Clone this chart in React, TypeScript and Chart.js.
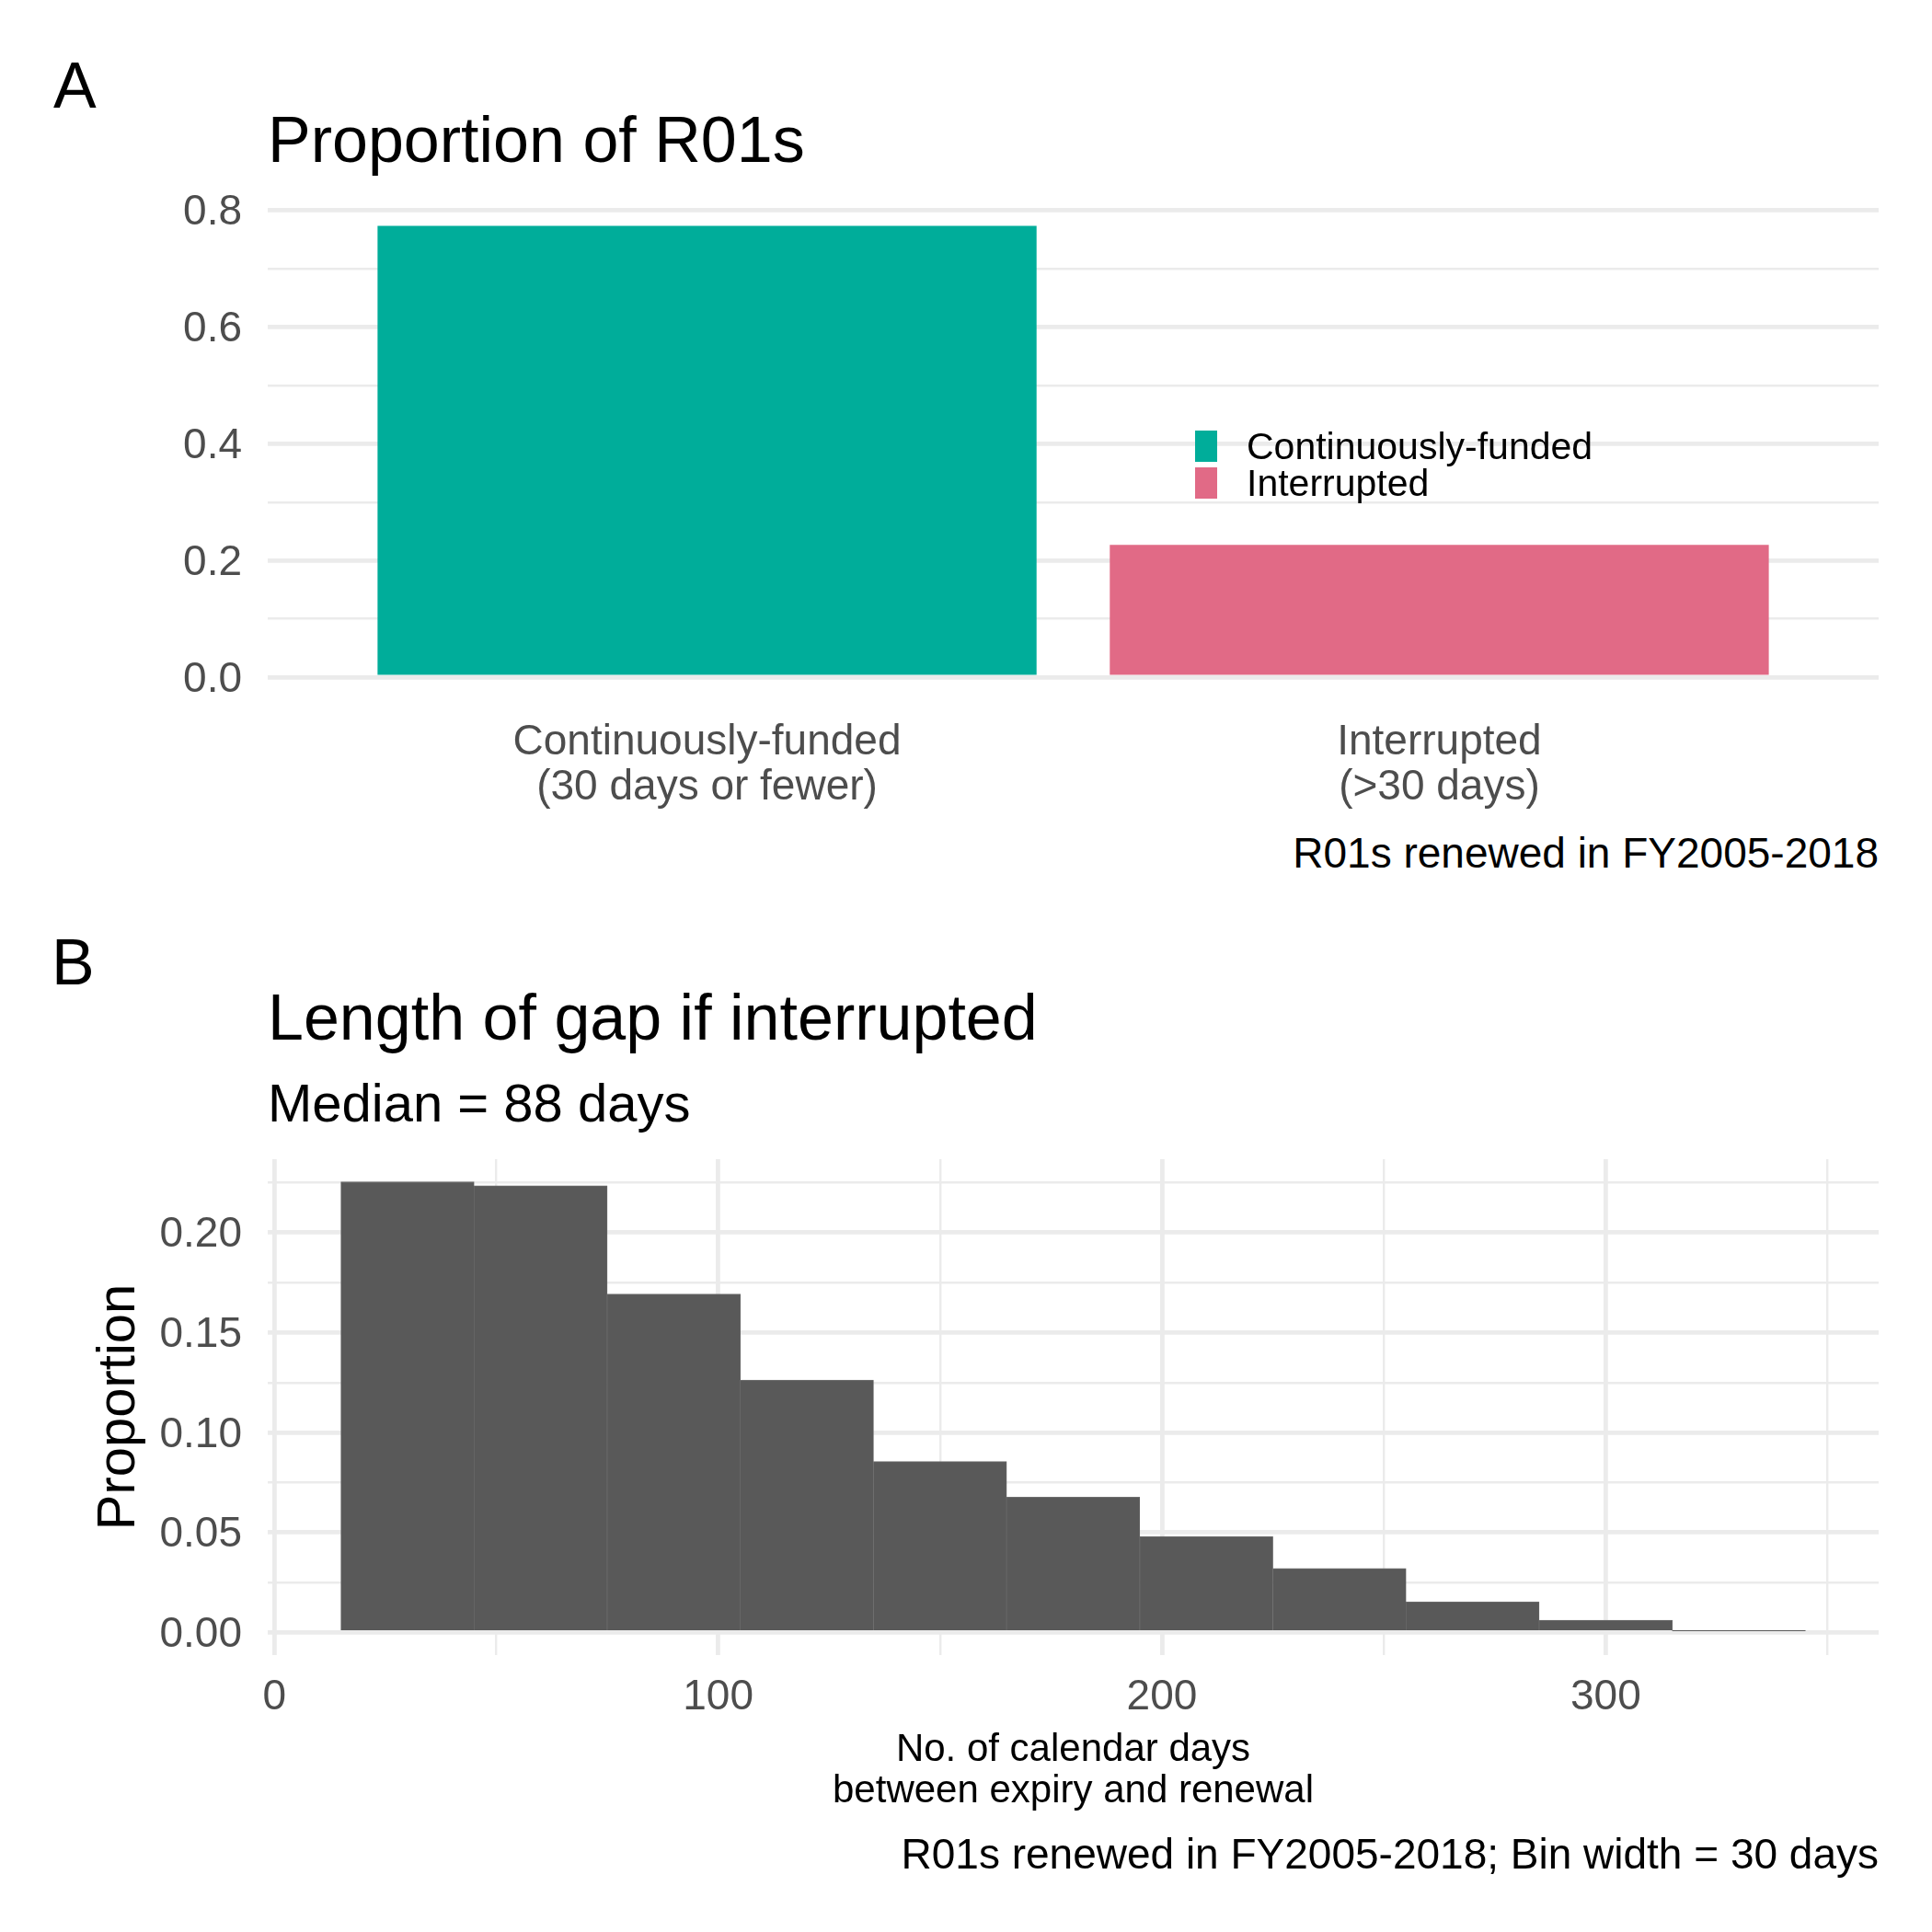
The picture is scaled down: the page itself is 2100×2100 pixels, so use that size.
import { useEffect, useRef } from "react"
import { Chart, registerables } from "chart.js"

Chart.register(...registerables)

const FONT = "'Liberation Sans', Arial, Helvetica, sans-serif"
Chart.defaults.font.family = FONT

// ---- panel A: share of renewed R01s ----
const statusNames  = ["Continuously-funded", "Interrupted"]
const statusTicks  = [["Continuously-funded", "(30 days or fewer)"], ["Interrupted", "(>30 days)"]]
const statusProp   = [0.7733, 0.2267]
const statusColors = ["#00AD9A", "#E16A86"]
const propTicksA   = [0, 0.1, 0.2, 0.3, 0.4, 0.5, 0.6, 0.7, 0.8]

// ---- panel B: gap length histogram (bin width 30 days) ----
const binMid     = [30, 60, 90, 120, 150, 180, 210, 240, 270, 300, 330]
const binProp    = [0.2254, 0.2234, 0.1692, 0.1262, 0.0855, 0.0677, 0.048, 0.032, 0.0154, 0.0062, 0.0007]
const binWidth   = 30
const dayTicks   = [0, 50, 100, 150, 200, 250, 300, 350]
const propTicksB = [0, 0.025, 0.05, 0.075, 0.1, 0.125, 0.15, 0.175, 0.2, 0.225]

const GRID = "#EBEBEB"
const TICK = "#4D4D4D"
const majorW = 4.8
const minorW = 2.4

// text placed by its baseline
function Txt({ x, base, size, align = "left", color = "#000", children }: any) {
  const shift = align === "right" ? "translateX(-100%)" : align === "center" ? "translateX(-50%)" : "none"
  return (
    <div style={{
      position: "absolute", left: x, top: base - 0.8467 * size, fontSize: size, lineHeight: `${size}px`,
      color, whiteSpace: "nowrap", transform: shift,
    }}>{children}</div>
  )
}

function PanelA() {
  const ref = useRef<HTMLCanvasElement>(null)

  useEffect(() => {
    if (!ref.current) return
    const yMax = Math.max(...statusProp)
    const chart = new Chart(ref.current, {
      type: "bar",
      data: {
        datasets: [{
          data: statusProp.map((y, i) => ({ x: i + 1, y })),
          backgroundColor: statusColors,
          borderWidth: 0,
          barPercentage: 0.9,
          categoryPercentage: 1,
        }],
      },
      options: {
        animation: false,
        responsive: true,
        maintainAspectRatio: false,
        layout: { padding: { top: 61, right: 58, left: 0, bottom: 0 } },
        plugins: { legend: { display: false }, tooltip: { enabled: false } },
        scales: {
          x: {
            type: "linear", min: 0.4, max: statusNames.length + 0.6, offset: false,
            afterBuildTicks: (s: any) => { s.ticks = statusNames.map((_, i) => ({ value: i + 1 })) },
            afterFit: (s: any) => { s.height = 139.5 },
            grid: { display: false, drawTicks: false, offset: false },
            border: { display: false },
            ticks: {
              autoSkip: false, maxRotation: 0, padding: 23, color: TICK,
              font: { size: 46, lineHeight: 1.056 },
              callback: (v: any) => statusTicks[Math.round(v) - 1] ?? "",
            },
          },
          y: {
            min: -0.05 * yMax, max: 1.05 * yMax,
            afterBuildTicks: (s: any) => { s.ticks = propTicksA.map(v => ({ value: v })) },
            afterFit: (s: any) => { s.width = 291 },
            grid: { color: GRID, drawTicks: false, lineWidth: (c: any) => (c.index % 2 === 0 ? majorW : minorW) },
            border: { display: false },
            ticks: {
              autoSkip: false, padding: 28, labelOffset: 3, color: TICK, font: { size: 46 },
              callback: (v: any, i: number) => (i % 2 === 0 ? Number(v).toFixed(1) : ""),
            },
          },
        },
      },
    })
    return () => chart.destroy()
  }, [])

  return (
    <div style={{ position: "absolute", left: 0, top: 160, width: 2100, height: 740 }}>
      <canvas ref={ref} />
    </div>
  )
}

function PanelB() {
  const ref = useRef<HTMLCanvasElement>(null)

  useEffect(() => {
    if (!ref.current) return
    const lo = binMid[0] - binWidth / 2
    const hi = binMid[binMid.length - 1] + binWidth / 2
    const xPad = 0.05 * (hi - lo)
    const yMax = Math.max(...binProp)
    const chart = new Chart(ref.current, {
      type: "bar",
      data: {
        datasets: [{
          data: binMid.map((x, i) => ({ x, y: binProp[i] })),
          backgroundColor: "#595959",
          borderColor: "#6e6e6e",
          borderWidth: { top: 1, left: 0.6, right: 0.6, bottom: 0 },
          borderSkipped: "start",
          barPercentage: 1,
          categoryPercentage: 1,
        }],
      },
      options: {
        animation: false,
        responsive: true,
        maintainAspectRatio: false,
        layout: { padding: { top: 61, right: 58, left: 0, bottom: 0 } },
        plugins: { legend: { display: false }, tooltip: { enabled: false } },
        scales: {
          x: {
            type: "linear", min: lo - xPad, max: hi + xPad, offset: false,
            afterBuildTicks: (s: any) => { s.ticks = dayTicks.map(v => ({ value: v })) },
            afterFit: (s: any) => { s.height = 201 },
            grid: { color: GRID, drawTicks: false, offset: false, lineWidth: (c: any) => (c.index % 2 === 0 ? majorW : minorW) },
            border: { display: false },
            ticks: {
              autoSkip: false, maxRotation: 0, padding: 22, color: TICK,
              font: { size: 46, lineHeight: 1.056 },
              callback: (v: any, i: number) => (i % 2 === 0 ? String(v) : ""),
            },
            title: {
              display: true, text: ["No. of calendar days", "between expiry and renewal"], color: "#000",
              font: { size: 42, lineHeight: 1.0714 }, padding: { top: 0, bottom: 30 },
            },
          },
          y: {
            min: -0.05 * yMax, max: 1.05 * yMax,
            afterBuildTicks: (s: any) => { s.ticks = propTicksB.map(v => ({ value: v })) },
            afterFit: (s: any) => { s.width = 291 },
            grid: { color: GRID, drawTicks: false, lineWidth: (c: any) => (c.index % 2 === 0 ? majorW : minorW) },
            border: { display: false },
            ticks: {
              autoSkip: false, padding: 28, labelOffset: 3, color: TICK, font: { size: 46 },
              callback: (v: any, i: number) => (i % 2 === 0 ? Number(v).toFixed(2) : ""),
            },
            title: {
              display: true, text: "Proportion", color: "#000",
              font: { size: 58, lineHeight: 1 }, padding: { top: 101, bottom: 0 },
            },
          },
        },
      },
    })
    return () => chart.destroy()
  }, [])

  return (
    <div style={{ position: "absolute", left: 0, top: 1199, width: 2100, height: 801 }}>
      <canvas ref={ref} />
    </div>
  )
}

export default function App() {
  return (
    <div style={{ position: "absolute", left: 0, top: 0, width: 2100, height: 2100, background: "#fff", fontFamily: FONT }}>
      <Txt x={58} base={117} size={70}>A</Txt>
      <Txt x={291} base={176} size={70}>Proportion of R01s</Txt>
      <PanelA />
      {statusNames.map((name, i) => (
        <div key={name}>
          <div style={{ position: "absolute", left: 1299, top: 468 + i * 40, width: 24, height: 34, background: statusColors[i] }} />
          <Txt x={1355} base={499.5 + i * 40.5} size={41}>{name}</Txt>
        </div>
      ))}
      <Txt x={2042} base={943} size={46} align="right">R01s renewed in FY2005-2018</Txt>

      <Txt x={56} base={1070} size={70}>B</Txt>
      <Txt x={291} base={1130} size={70}>Length of gap if interrupted</Txt>
      <Txt x={291} base={1219} size={58}>Median = 88 days</Txt>
      <PanelB />
      <Txt x={2042} base={2031} size={46} align="right">R01s renewed in FY2005-2018; Bin width = 30 days</Txt>
    </div>
  )
}
